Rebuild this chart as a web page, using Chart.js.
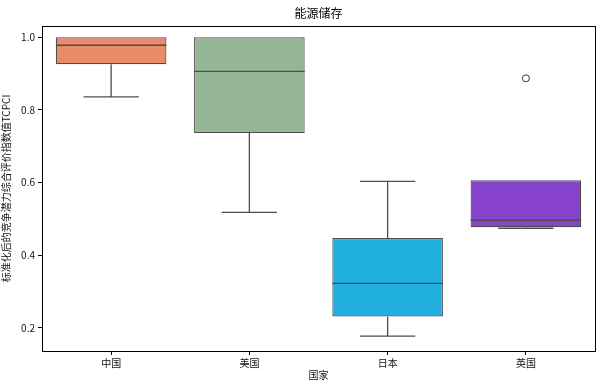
<!DOCTYPE html>
<html lang="zh">
<head>
<meta charset="UTF-8">
<title>能源储存</title>
<script src="https://cdn.jsdelivr.net/npm/chart.js"></script>
<style>
  html, body { margin: 0; padding: 0; background: #fff; }
  #wrap { width: 601px; height: 388px; }
</style>
</head>
<body>
<div id="wrap"><canvas id="boxChart" width="601" height="388"></canvas></div>
<script>
// 数据：四分位数读自原图
const countries = ['中国', '美国', '日本', '英国'];
const whiskerLow = [0.836, 0.518, 0.177, 0.474];
const q1Values   = [0.926, 0.736, 0.231, 0.477];
const medians    = [0.978, 0.906, 0.322, 0.496];
const q3Values   = [1.000, 1.000, 0.447, 0.606];
const whiskerHigh = [1.000, 1.000, 0.603, 0.606];
const outliers = [null, null, null, 0.887];
const yTicks = [0.2, 0.4, 0.6, 0.8, 1.0];
const boxColors = ['#EB8A68', '#96B796', '#21AFDF', '#8843CC'];

const FONT = '"Noto Sans CJK SC", "DejaVu Sans", sans-serif';
const EDGE = '#4d4d4d';

// 胡须、中位线、外框、标题
const boxExtras = {
  id: 'boxExtras',
  afterDatasetsDraw(chart) {
    const ctx = chart.ctx;
    const x = chart.scales.x, y = chart.scales.y;
    const meta = chart.getDatasetMeta(0);
    ctx.save();
    ctx.strokeStyle = EDGE;
    ctx.lineWidth = 1.3;
    countries.forEach((c, i) => {
      const bar = meta.data[i];
      const cx = x.getPixelForValue(i);
      const half = bar.width / 2;
      const cap = bar.width / 4;
      const yMed = y.getPixelForValue(medians[i]);
      const yQ1 = y.getPixelForValue(q1Values[i]);
      const yQ3 = y.getPixelForValue(q3Values[i]);
      const yLo = y.getPixelForValue(whiskerLow[i]);
      const yHi = y.getPixelForValue(whiskerHigh[i]);
      ctx.beginPath();
      ctx.moveTo(cx - half, yMed); ctx.lineTo(cx + half, yMed);
      if (yHi < yQ3) {
        ctx.moveTo(cx, yQ3); ctx.lineTo(cx, yHi);
        ctx.moveTo(cx - cap, yHi); ctx.lineTo(cx + cap, yHi);
      }
      if (yLo > yQ1 + 0.5) {
        ctx.moveTo(cx, yQ1); ctx.lineTo(cx, yLo);
      }
      ctx.moveTo(cx - cap, yLo); ctx.lineTo(cx + cap, yLo);
      ctx.stroke();
    });
    // 外框
    const a = chart.chartArea;
    ctx.strokeStyle = '#000';
    ctx.lineWidth = 1;
    ctx.strokeRect(a.left + 0.5, a.top + 0.5, a.right - a.left, a.bottom - a.top);
    // 标题
    ctx.fillStyle = '#000';
    ctx.font = '12px ' + FONT;
    ctx.textAlign = 'center';
    ctx.textBaseline = 'middle';
    ctx.fillText('能源储存', (a.left + a.right) / 2, 13);
    ctx.restore();
  }
};

new Chart(document.getElementById('boxChart'), {
  type: 'bar',
  data: {
    labels: countries,
    datasets: [{
      data: q1Values.map((q, i) => [q, q3Values[i]]),
      backgroundColor: boxColors,
      borderColor: EDGE,
      borderWidth: 1.2,
      borderSkipped: false,
      barPercentage: 0.8,
      categoryPercentage: 1.0
    }, {
      type: 'line',
      data: outliers,
      showLine: false,
      pointRadius: 3.5,
      pointBackgroundColor: 'rgba(0,0,0,0)',
      pointBorderColor: '#333',
      pointBorderWidth: 1
    }]
  },
  plugins: [boxExtras],
  options: {
    responsive: false,
    animation: false,
    layout: { padding: { top: 26, right: 6, left: 0, bottom: 7 } },
    plugins: { legend: { display: false }, tooltip: { enabled: false } },
    scales: {
      x: {
        offset: true,
        grid: { display: true, drawOnChartArea: false, tickLength: 4, tickColor: '#000', offset: false },
        border: { display: false },
        ticks: { color: '#111', font: { family: FONT, size: 10 }, padding: 2, maxRotation: 0 },
        title: { display: true, text: '国家', color: '#111', font: { family: FONT, size: 10 }, padding: { top: 0, bottom: 0 } },
        afterFit(scale) { scale.height = 30; }
      },
      y: {
        min: 0.136,
        max: 1.031,
        afterBuildTicks(scale) { scale.ticks = yTicks.map(v => ({ value: v })); },
        grid: { display: true, drawOnChartArea: false, tickLength: 4, tickColor: '#000' },
        border: { display: false },
        ticks: { color: '#111', font: { family: FONT, size: 10 }, padding: 3, callback: v => v.toFixed(1) },
        title: { display: true, text: '标准化后的竞争潜力综合评价指数值TCPCI', color: '#111', font: { family: FONT, size: 10 }, padding: { top: 0, bottom: 0 } },
        afterFit(scale) { scale.width = 42; }
      }
    }
  }
});
</script>
</body>
</html>
